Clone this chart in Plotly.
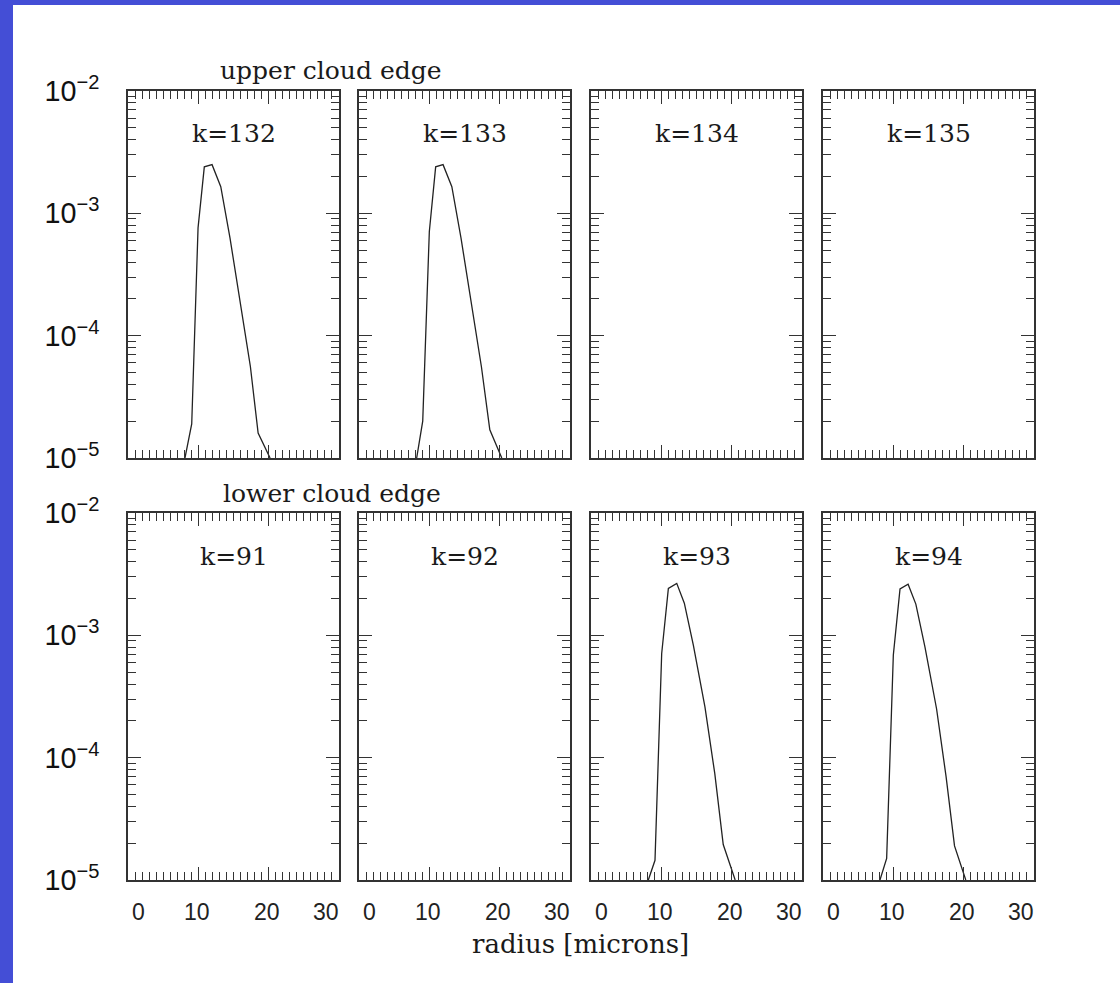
import plotly.graph_objects as go

W, H = 1120, 983

# ---- data ----
titles_top = ["k=132", "k=133", "k=134", "k=135"]
titles_bot = ["k=91", "k=92", "k=93", "k=94"]
row_titles = ["upper cloud edge", "lower cloud edge"]
x_tick_vals = [0, 10, 20, 30]
x_tick_text = ["0", "10", "20", "30"]
x_label = "radius [microns]"

r_k132 = [8.1, 9.06, 9.96, 10.85, 11.95, 13.19, 14.5, 16.0, 17.4, 18.5, 20.2]
n_k132 = [1.0e-5, 1.9e-5, 7.6e-4, 2.4e-3, 2.5e-3, 1.65e-3, 6.3e-4, 1.8e-4, 5.6e-5, 1.6e-5, 1.0e-5]
r_k133 = [8.2, 9.06, 10.0, 10.9, 11.95, 13.2, 14.5, 16.0, 17.4, 18.6, 20.3]
n_k133 = [1.0e-5, 2.0e-5, 7.1e-4, 2.4e-3, 2.5e-3, 1.65e-3, 6.3e-4, 1.8e-4, 5.6e-5, 1.7e-5, 1.0e-5]
r_k93 = [8.15, 9.1, 10.05, 11.0, 12.19, 13.27, 14.55, 16.2, 17.6, 18.8, 20.5]
n_k93 = [1.0e-5, 1.45e-5, 7.1e-4, 2.42e-3, 2.66e-3, 1.83e-3, 8.3e-4, 2.6e-4, 7.4e-5, 1.95e-5, 1.0e-5]
r_k94 = [8.1, 9.05, 10.0, 10.95, 12.1, 13.2, 14.5, 16.15, 17.5, 18.7, 20.3]
n_k94 = [1.0e-5, 1.5e-5, 6.9e-4, 2.4e-3, 2.62e-3, 1.8e-3, 8.0e-4, 2.5e-4, 7.0e-5, 1.9e-5, 1.0e-5]

series = {1: (r_k132, n_k132), 2: (r_k133, n_k133), 7: (r_k93, n_k93), 8: (r_k94, n_k94)}

# ---- layout geometry (pixels) ----
lefts = [128, 359, 591, 823]
pw = 211
rows = [(91, 458), (513, 880)]

fig = go.Figure()
axis_color = "#333333"
ann = []
for i in range(8):
    idx = i + 1
    row, col = divmod(i, 4)
    xs = "" if idx == 1 else str(idx)
    x0 = lefts[col] / W
    x1 = (lefts[col] + pw) / W
    yt, yb = rows[row]
    y0 = 1 - yb / H
    y1 = 1 - yt / H
    if idx in series:
        rx, ny = series[idx]
        fig.add_trace(go.Scatter(x=rx, y=ny, mode="lines", xaxis="x" + xs, yaxis="y" + xs,
                                 line=dict(color="#222222", width=1.3), showlegend=False,
                                 hoverinfo="skip"))
    else:
        fig.add_trace(go.Scatter(x=[None], y=[None], mode="lines", xaxis="x" + xs,
                                 yaxis="y" + xs, showlegend=False))
    fig.layout["xaxis" + xs] = dict(
        domain=[x0, x1], anchor="y" + xs, range=[0, 30], automargin=False,
        showline=True, linecolor=axis_color, linewidth=1.8, mirror="allticks",
        ticks="inside", tickvals=x_tick_vals, ticklen=13, tickwidth=1.3, tickcolor=axis_color,
        minor=dict(dtick=1, ticks="inside", ticklen=8, tickwidth=1.2, tickcolor=axis_color),
        showticklabels=False, showgrid=False, zeroline=False, fixedrange=True,
    )
    fig.layout["yaxis" + xs] = dict(
        domain=[y0, y1], anchor="x" + xs, type="log", range=[-5, -2], automargin=False,
        showline=True, linecolor=axis_color, linewidth=1.8, mirror="allticks",
        ticks="inside", dtick=1, ticklen=13, tickwidth=1.3, tickcolor=axis_color,
        minor=dict(dtick="D1", ticks="inside", ticklen=8, tickwidth=1.2, tickcolor=axis_color),
        showticklabels=(col == 0), exponentformat="power",
        tickfont=dict(family="Liberation Sans, Arial, sans-serif", size=23, color="#111111"),
        ticklabelstandoff=22,
        showgrid=False, zeroline=False, fixedrange=True,
    )
    title = (titles_top + titles_bot)[i]
    ann.append(dict(text=title, xref="x" + xs + " domain", yref="y" + xs + " domain",
                    x=0.5, y=1 - 43 / 367, xanchor="center", yanchor="middle", showarrow=False,
                    font=dict(family="DejaVu Serif, serif", size=25, color="#1a1a1a")))
    if row == 1:
        shifts = [10, -1, -2, -13]
        for v, t, s in zip(x_tick_vals, x_tick_text, shifts):
            ann.append(dict(text=t, xref="x" + xs, yref="paper", x=v, xshift=s,
                            y=1 - 912 / H, xanchor="center", yanchor="middle", showarrow=False,
                            font=dict(family="Liberation Sans, Arial, sans-serif", size=23,
                                      color="#222222")))

ann.append(dict(text=row_titles[0], xref="paper", yref="paper", x=331 / W, y=1 - 70 / H,
                xanchor="center", yanchor="middle", showarrow=False,
                font=dict(family="DejaVu Serif, serif", size=25, color="#1a1a1a")))
ann.append(dict(text=row_titles[1], xref="paper", yref="paper", x=332 / W, y=1 - 493 / H,
                xanchor="center", yanchor="middle", showarrow=False,
                font=dict(family="DejaVu Serif, serif", size=25, color="#1a1a1a")))
ann.append(dict(text=x_label, xref="paper", yref="paper", x=580 / W, y=1 - 944 / H,
                xanchor="center", yanchor="middle", showarrow=False,
                font=dict(family="DejaVu Serif, serif", size=26, color="#1a1a1a")))

blue = "#444ed6"
shapes = [
    dict(type="rect", xref="paper", yref="paper", x0=0, x1=13 / W, y0=0, y1=1,
         fillcolor=blue, line=dict(width=0), layer="below"),
    dict(type="rect", xref="paper", yref="paper", x0=0, x1=1, y0=1 - 5 / H, y1=1,
         fillcolor=blue, line=dict(width=0), layer="below"),
]

fig.update_layout(width=W, height=H, margin=dict(l=0, r=0, t=0, b=0, pad=0, autoexpand=False),
                  paper_bgcolor="white", plot_bgcolor="white",
                  annotations=ann, shapes=shapes, showlegend=False)

fig.write_html("out.html", config={"displayModeBar": False})
